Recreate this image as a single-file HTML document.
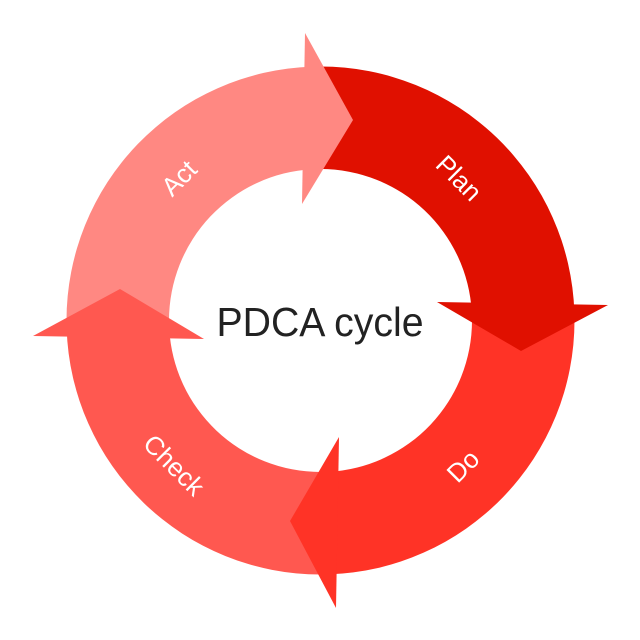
<!DOCTYPE html>
<html>
<head>
<meta charset="utf-8">
<style>
html,body{margin:0;padding:0;background:#fff;width:640px;height:640px;overflow:hidden}
svg{display:block}
text{font-family:"Liberation Sans",sans-serif}
</style>
</head>
<body>
<svg width="640" height="640" viewBox="0 0 640 640" xmlns="http://www.w3.org/2000/svg">
<path d="M320.5 66.5 A254 254 0 0 1 574.36 312 L471.76 312 A151.5 151.5 0 0 0 320.5 169 Z" fill="#e01000"/>
<path d="M574.5 320.5 A254 254 0 0 1 329 574.36 L329 471.76 A151.5 151.5 0 0 0 472 320.5 Z" fill="#ff3326"/>
<path d="M320.5 574.5 A254 254 0 0 1 66.64 329 L169.24 329 A151.5 151.5 0 0 0 320.5 472 Z" fill="#ff5850"/>
<path d="M66.5 320.5 A254 254 0 0 1 312 66.64 L312 169.24 A151.5 151.5 0 0 0 169 320.5 Z" fill="#ff8882"/>
<polygon points="305,33 353,120 302,204" fill="#ff8882"/>
<polygon points="437,302 608,305 521,351" fill="#e01000"/>
<polygon points="339,437 290,521 336,608" fill="#ff3326"/>
<polygon points="33,336 120,289 204,339" fill="#ff5850"/>
<text x="320" y="336" font-size="41" fill="#222" text-anchor="middle" textLength="207" lengthAdjust="spacingAndGlyphs">PDCA cycle</text>
<text transform="translate(459,178) rotate(45)" y="9" font-size="26" fill="#fff" text-anchor="middle">Plan</text>
<text transform="translate(463,466) rotate(-45)" y="9" font-size="26" fill="#fff" text-anchor="middle">Do</text>
<text transform="translate(174,465) rotate(45)" y="9" font-size="26" fill="#fff" text-anchor="middle">Check</text>
<text transform="translate(179,178) rotate(-45)" y="9" font-size="26" fill="#fff" text-anchor="middle">Act</text>
</svg>
</body>
</html>
